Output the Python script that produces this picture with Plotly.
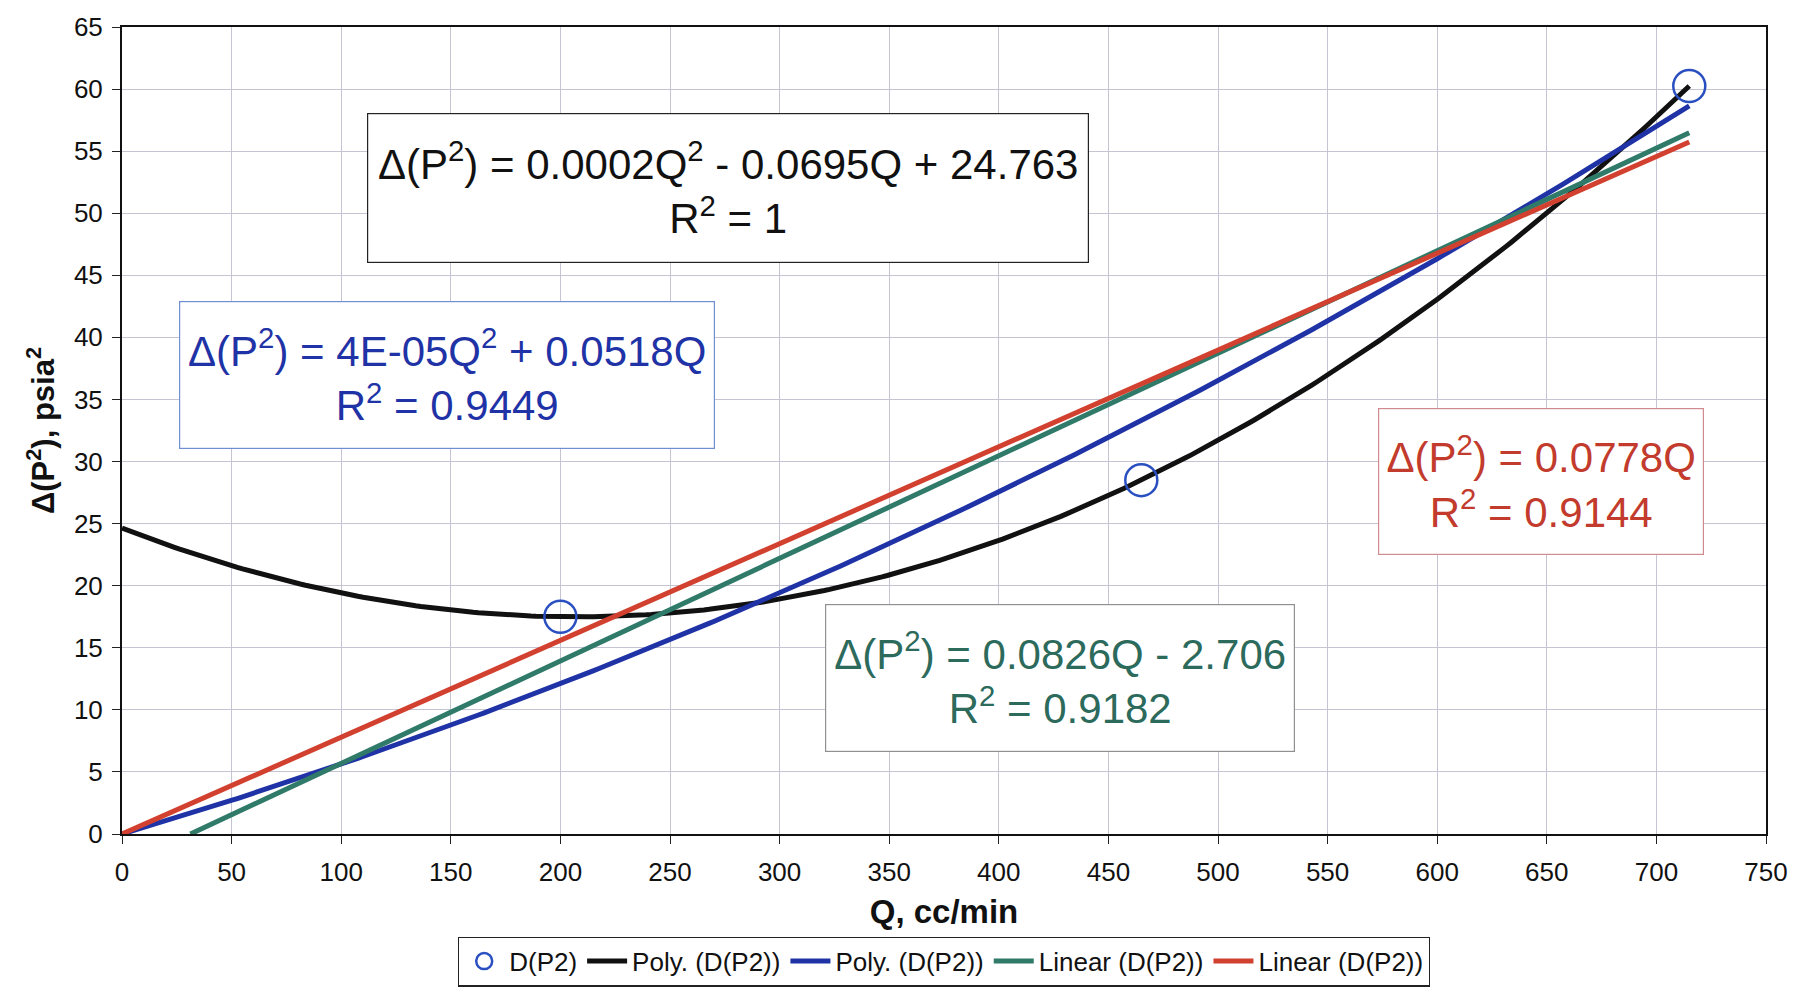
import numpy as np
import plotly.graph_objects as go

# ---- data ----
Q = [200, 465, 715]          # cc/min
DP2 = [17.5, 28.5, 60.25]    # delta(P^2), psia^2

x_ticks = list(range(0, 751, 50))
y_ticks = list(range(0, 66, 5))

eq_black = "Δ(P<sup>2</sup>) = 0.0002Q<sup>2</sup> - 0.0695Q + 24.763<br>R<sup>2</sup> = 1"
eq_blue = "Δ(P<sup>2</sup>) = 4E-05Q<sup>2</sup> + 0.0518Q<br>R<sup>2</sup> = 0.9449"
eq_green = "Δ(P<sup>2</sup>) = 0.0826Q - 2.706<br>R<sup>2</sup> = 0.9182"
eq_red = "Δ(P<sup>2</sup>) = 0.0778Q<br>R<sup>2</sup> = 0.9144"

# ---- trendlines fitted to the data (as Excel does) ----
q = np.array(Q, dtype=float)
d = np.array(DP2, dtype=float)
xs = np.linspace(0, q.max(), 300)

p_black = np.polyfit(q, d, 2)
y_black = np.polyval(p_black, xs)

A = np.vstack([q**2, q]).T
c_blue, *_ = np.linalg.lstsq(A, d, rcond=None)
y_blue = c_blue[0] * xs**2 + c_blue[1] * xs

p_green = np.polyfit(q, d, 1)
x0g = -p_green[1] / p_green[0]
xs_g = np.linspace(max(0, x0g), q.max(), 300)
y_green = np.polyval(p_green, xs_g)

k_red = (q * d).sum() / (q**2).sum()
y_red = k_red * xs

BLACK = "#111111"
BLUE = "#1f33a6"
GREEN = "#2f7a68"
RED = "#d2412f"

fig = go.Figure()
fig.add_trace(go.Scatter(x=xs, y=y_black, mode="lines", name="Poly. (D(P2))",
                         line=dict(color=BLACK, width=5), legendrank=2))
fig.add_trace(go.Scatter(x=xs, y=y_blue, mode="lines", name="Poly. (D(P2))",
                         line=dict(color=BLUE, width=5), legendrank=3))
fig.add_trace(go.Scatter(x=xs_g, y=y_green, mode="lines", name="Linear (D(P2))",
                         line=dict(color=GREEN, width=5), legendrank=4))
fig.add_trace(go.Scatter(x=xs, y=y_red, mode="lines", name="Linear (D(P2))",
                         line=dict(color=RED, width=5), legendrank=5))
fig.add_trace(go.Scatter(x=Q, y=DP2, mode="markers", name="D(P2)",
                         marker=dict(symbol="circle-open", size=32,
                                     color="#2a4fc0", line=dict(width=2.5)),
                         legendrank=1))

L, R, T, B = 122, 42, 25, 160
W, H = 1808, 999
pw, ph = W - L - R, H - T - B


def px(xp, yp):
    return (xp - L) / pw, (H - B - yp) / ph


def box(text, cx, cy, bw, bh, color, border):
    xp, yp = px(cx, cy)
    fig.add_annotation(text=text, xref="paper", yref="paper", x=xp, y=yp,
                       xanchor="center", yanchor="middle", showarrow=False,
                       font=dict(family="Liberation Sans, Arial", size=42, color=color),
                       bgcolor="white", bordercolor=border, borderwidth=1.2,
                       borderpad=2, width=bw - 6, height=bh - 6, align="center",
                       valign="middle")


box(eq_black, 728, 187, 722, 150, "#111111", "#222222")
box(eq_blue, 447, 376, 536, 148, "#1f33a6", "#6f8fd0")
box(eq_red, 1541, 483, 326, 147, "#c23b2c", "#d08a90")
box(eq_green, 1060, 682, 470, 148, "#2c6a5c", "#909090")

fig.update_layout(
    width=W, height=H,
    margin=dict(l=L, r=R, t=T, b=B),
    paper_bgcolor="white", plot_bgcolor="white",
    font=dict(family="Liberation Sans, Arial", color="#111111"),
    showlegend=True,
    legend=dict(orientation="h", x=0.5, y=-0.158, xanchor="center", yanchor="middle",
                bordercolor="#222222", borderwidth=1.2, bgcolor="white",
                font=dict(size=26), itemwidth=40, tracegroupgap=0),
)
fig.update_xaxes(range=[0, 750], tickvals=x_ticks, ticks="outside", ticklen=8,
                 tickcolor="#222", tickfont=dict(size=26), ticklabelstandoff=6,
                 showgrid=True, gridcolor="#c4c4d2", gridwidth=1.2,
                 showline=True, linecolor="#111", linewidth=2, mirror=True,
                 zeroline=False,
                 title=dict(text="<b>Q, cc/min</b>", font=dict(size=33), standoff=14))
fig.update_yaxes(range=[0, 65], tickvals=y_ticks, ticks="outside", ticklen=8,
                 tickcolor="#222", tickfont=dict(size=26), ticklabelstandoff=4,
                 showgrid=True, gridcolor="#c4c4d2", gridwidth=1.2,
                 showline=True, linecolor="#111", linewidth=2, mirror=True,
                 zeroline=False,
                 title=dict(text="<b>Δ(P<sup>2</sup>), psia<sup>2</sup></b>",
                            font=dict(size=31), standoff=10))

fig.write_html("out.html")
